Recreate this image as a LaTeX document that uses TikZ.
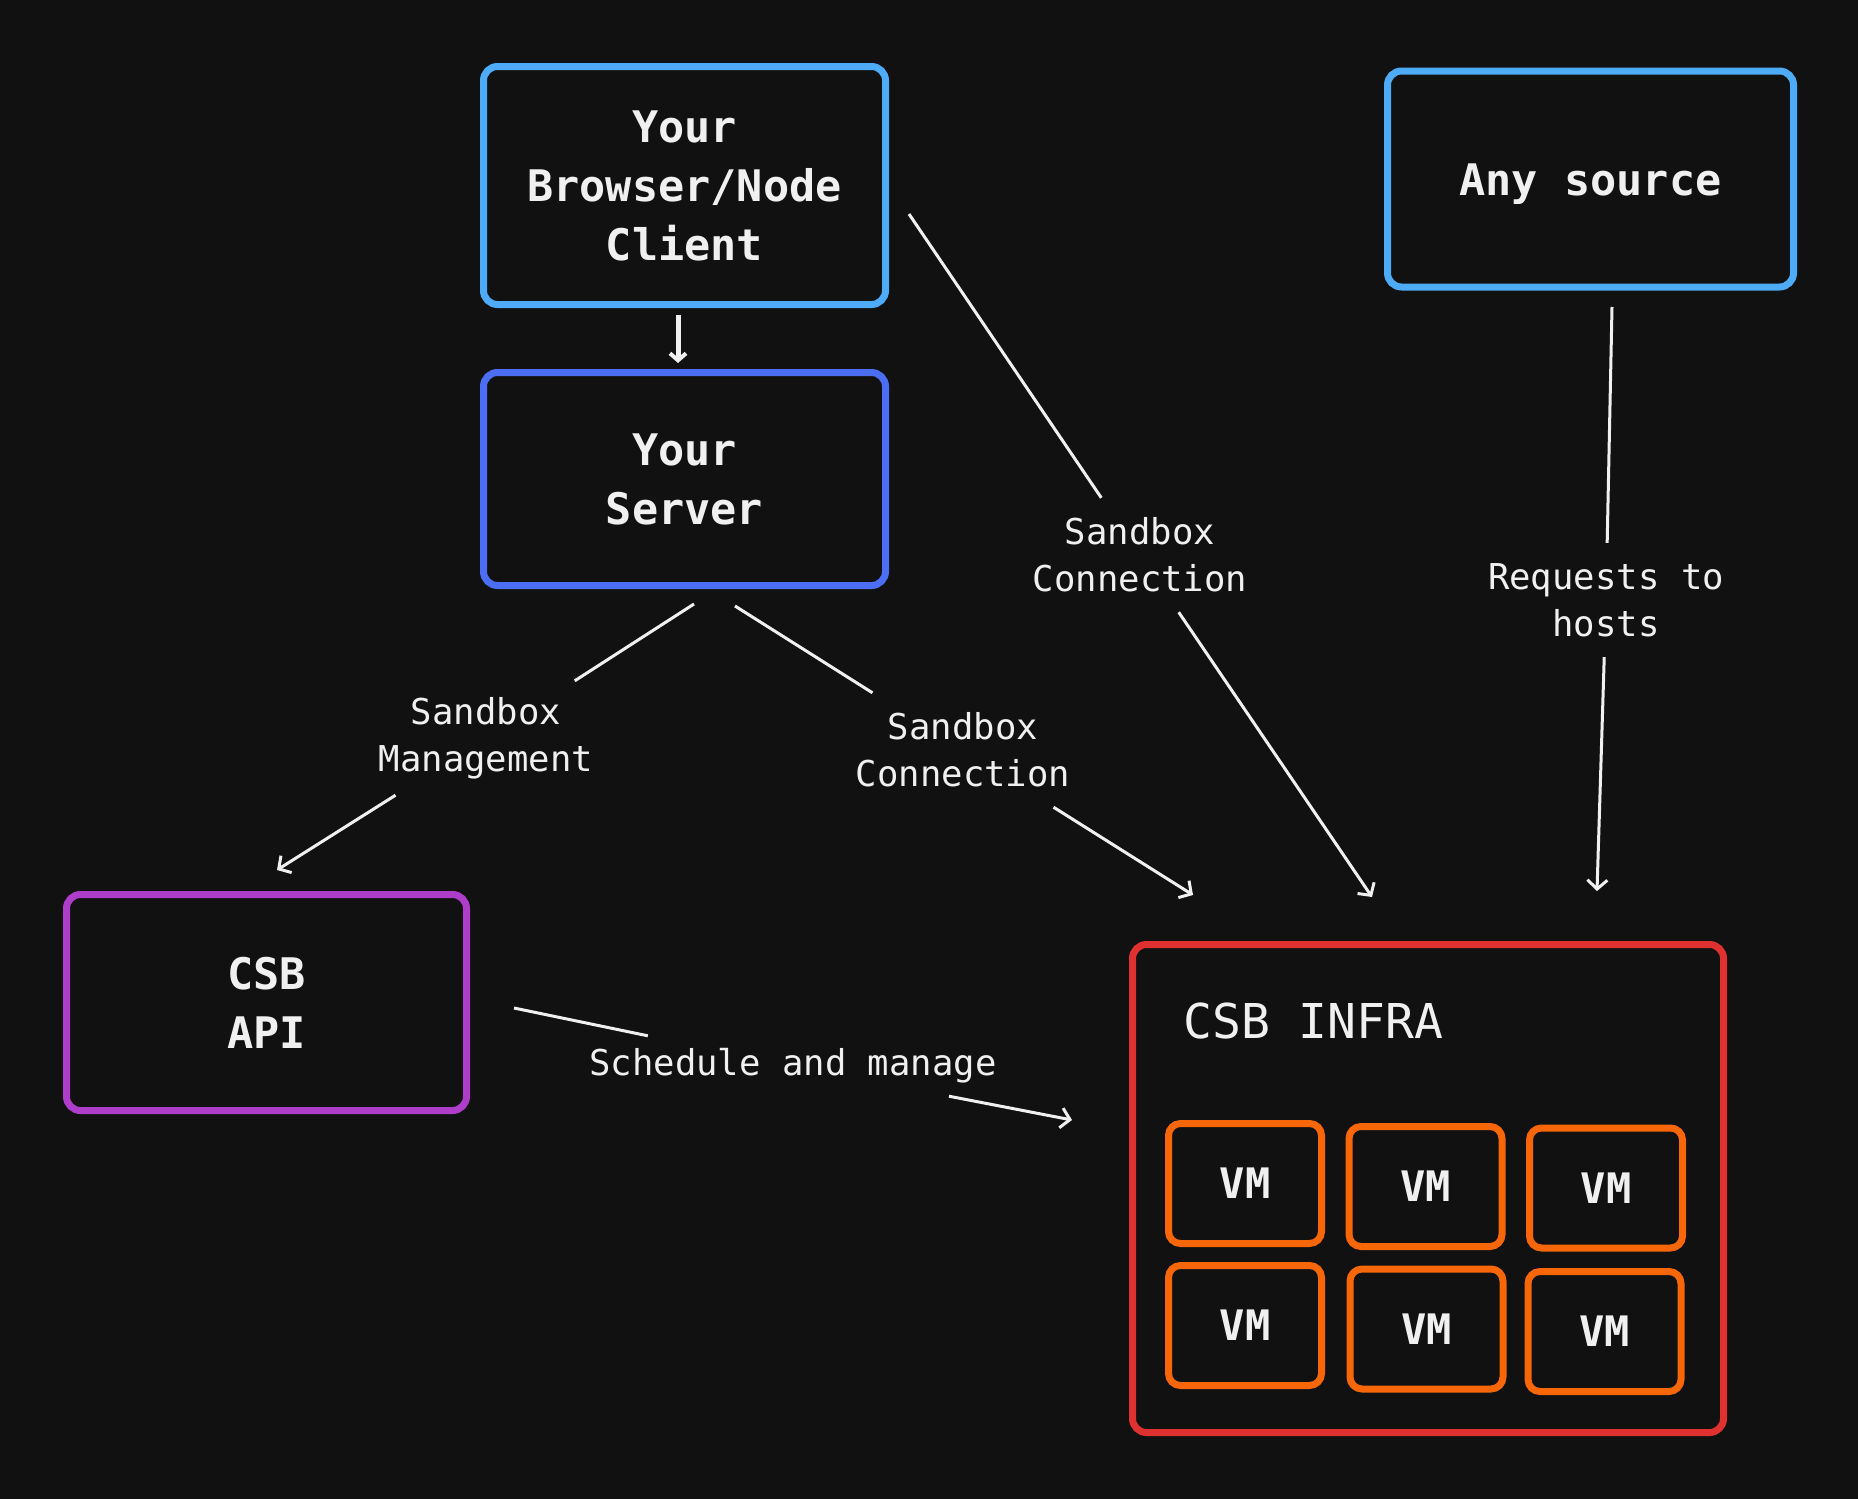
\documentclass[tikz,border=0pt]{standalone}
\usepackage{fontspec}
\setmonofont{DejaVu Sans Mono}
\usetikzlibrary{arrows.meta}
\definecolor{bg}{HTML}{111111}
\definecolor{fg}{HTML}{F0F0F0}
\definecolor{cblue}{HTML}{4DABF7}
\definecolor{cindigo}{HTML}{4C6EF5}
\definecolor{cgrape}{HTML}{AE3EC9}
\definecolor{cred}{HTML}{E03131}
\definecolor{corange}{HTML}{F76707}
\newcommand\boxfont{\ttfamily\bfseries\fontsize{43.5}{59}\selectfont}
\newcommand\lblfont{\ttfamily\fontsize{35.6}{47}\selectfont}
\newcommand\infrafont{\ttfamily\fontsize{48}{58}\selectfont}
\newcommand\vmfont{\ttfamily\bfseries\fontsize{42}{50}\selectfont}
\tikzset{
  box/.style={draw, line width=7pt, rounded corners=14pt, fill=bg, inner sep=0pt, text=fg, align=center, font=\boxfont},
  vmbox/.style={draw=corange, line width=7pt, rounded corners=12pt, fill=bg, inner sep=0pt, text=fg, font=\vmfont, minimum width=153pt, minimum height=120pt},
  lbl/.style={inner sep=0pt, text=fg, align=center, font=\lblfont},
  lbltwo/.style={lbl, minimum height=114pt, minimum width=240pt},
  lblone/.style={lbl, minimum height=60pt, minimum width=420pt},
  conn/.style={draw=fg, line width=3pt, -{Straight Barb[length=9pt,width=20pt,line width=3pt]}},
  seg/.style={draw=fg, line width=3pt},
}
\begin{document}
\begin{tikzpicture}[x=1pt,y=-1pt]
\useasboundingbox[fill=bg] (0,0) rectangle (1858,1499);

% boxes
\node[box, draw=cblue, minimum width=402pt, minimum height=238pt] (browser) at (684.5,185.5) {Your\\Browser/Node\\Client};
\node[box, draw=cindigo, minimum width=402pt, minimum height=213pt] (server) at (684.5,479) {Your\\Server};
\node[box, draw=cblue, minimum width=406pt, minimum height=216pt] (source) at (1590.5,179) {\raisebox{-6pt}[30pt][10pt]{Any source}};
\node[box, draw=cgrape, minimum width=400pt, minimum height=216pt] (api) at (266.5,1002.5) {CSB\\API};
\node[box, draw=cred, minimum width=591pt, minimum height=488pt] (infra) at (1428,1188.5) {};
\node[text=fg, font=\infrafont, anchor=base west, inner sep=0pt] (infralbl) at (1183,1038) {CSB INFRA};

% VMs
\node[vmbox] (vm1) at (1245,1183.5) {VM};
\node[vmbox] (vm2) at (1425.5,1186.5) {VM};
\node[vmbox] (vm3) at (1606,1188) {VM};
\node[vmbox] (vm4) at (1245,1325.5) {VM};
\node[vmbox] (vm5) at (1426.5,1329) {VM};
\node[vmbox] (vm6) at (1604.5,1331.5) {VM};

% labels
\node[lbltwo] (lmgmt) at (486,738) {Sandbox\\Management};
\node[lbltwo] (lconnA) at (963,750) {Sandbox\\Connection};
\node[lbltwo] (lconnB) at (1140,555) {Sandbox\\Connection};
\node[lbltwo] (lreq) at (1606,600) {Requests to\\hosts};
\node[lblone] (lsched) at (793,1066) {Schedule and manage};

% connector endpoints
\coordinate (b1) at (678,315);
\coordinate (s1) at (678,363);
\coordinate (m1) at (694,604);
\coordinate (m2) at (277,870);
\coordinate (a1) at (735,606);
\coordinate (a2) at (1193,895);
\coordinate (c1) at (909,214);
\coordinate (c2) at (1372,897);
\coordinate (r1) at (1612,307);
\coordinate (r2) at (1597,891);
\coordinate (h1) at (514,1008);
\coordinate (h2) at (1072,1120);

% connectors
\draw[draw=fg, line width=5pt, -{Straight Barb[length=7pt,width=16pt,line width=4pt]}] (b1) -- (s1);
\draw[seg] (m1) -- (lmgmt);
\draw[conn] (lmgmt) -- (m2);
\draw[seg] (a1) -- (lconnA);
\draw[conn] (lconnA) -- (a2);
\draw[seg] (c1) -- (lconnB);
\draw[conn] (lconnB) -- (c2);
\draw[seg] (r1) -- (lreq);
\draw[conn] (lreq) -- (r2);
\draw[seg] (h1) -- (lsched);
\draw[conn] (lsched) -- (h2);
\end{tikzpicture}
\end{document}
